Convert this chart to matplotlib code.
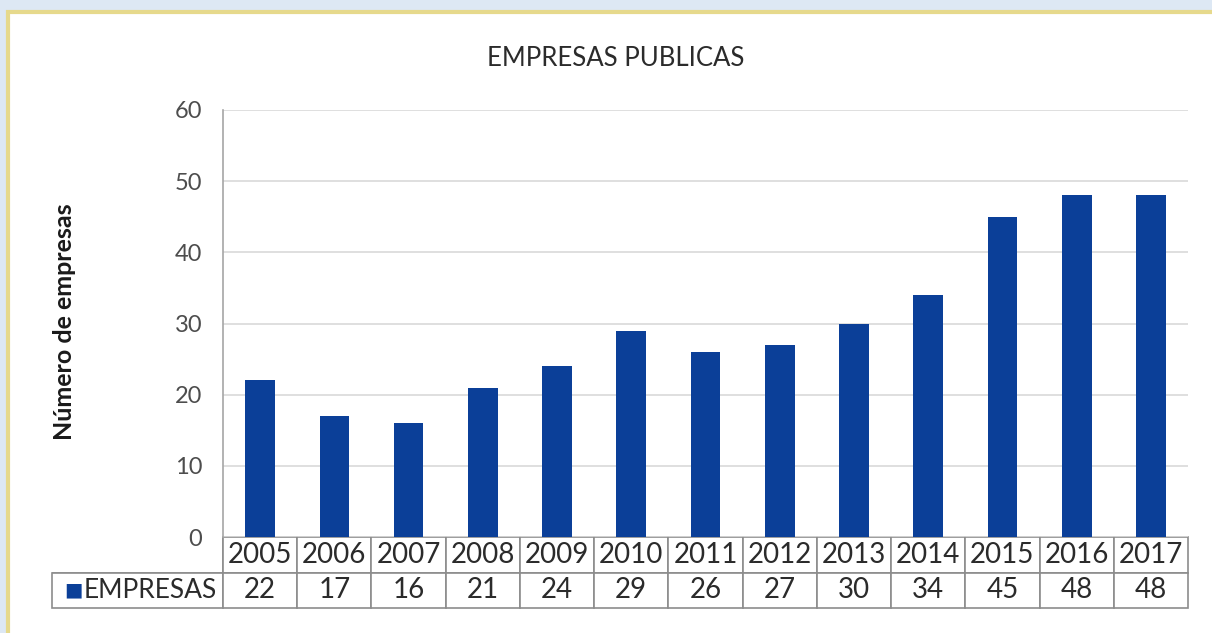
import matplotlib.pyplot as plt
from matplotlib.patches import Rectangle

years = ['2005', '2006', '2007', '2008', '2009', '2010', '2011',
         '2012', '2013', '2014', '2015', '2016', '2017']
empresas = [22, 17, 16, 21, 24, 29, 26, 27, 30, 34, 45, 48, 48]
series_name = 'EMPRESAS'

W, H = 1212, 633
bar_color = '#0b3f98'
text_color = '#2b2b2b'

plt.rcParams['font.family'] = ['Lato', 'DejaVu Sans']

fig = plt.figure(figsize=(W / 100, H / 100), dpi=100)
fig.patch.set_facecolor('#dde8f4')

# white panel with a yellowish border, kept behind the axes
panel = Rectangle((8 / W, -0.01), 1.02, 1 - 12 / H + 0.01, transform=fig.transFigure,
                  facecolor='white', edgecolor='#e6d98c', linewidth=3, zorder=-10)
fig.patches.append(panel)

ax = fig.add_axes([223 / W, 1 - 537 / H, (1188 - 223) / W, (537 - 110) / H])
ax.set_facecolor('none')

x = list(range(len(years)))
ax.bar(x, empresas, width=0.4, color=bar_color, zorder=3)

ax.set_xlim(-0.5, len(years) - 0.5)
ax.set_ylim(0, 60)
ax.set_yticks(range(0, 61, 10))
ax.set_xticks([])
ax.yaxis.grid(True, color='#d9d9d9', linewidth=1.2, zorder=0)
ax.tick_params(axis='y', length=0, pad=15, labelsize=17, labelcolor='#4d4d4d')
for s in ['top', 'right', 'bottom']:
    ax.spines[s].set_visible(False)
ax.spines['left'].set_color('#a6a6a6')
ax.spines['left'].set_linewidth(1.2)

# data table under the chart
col_w = (1188 - 223) / 13
first_w = 223 - 52
total_w = 1188 - 52
cell_text = [[''] + years, [''] + [str(v) for v in empresas]]
widths = [first_w / total_w] + [col_w / total_w] * len(years)
tbl = ax.table(cellText=cell_text, colWidths=widths, cellLoc='center',
               bbox=[(52 - 223) / (1188 - 223), -(608 - 537) / (537 - 110),
                     total_w / (1188 - 223), (608 - 537) / (537 - 110)])
tbl.auto_set_font_size(False)
for (r, c), cell in tbl.get_celld().items():
    cell.set_edgecolor('#8c8c8c')
    cell.set_linewidth(1.2)
    cell.get_text().set_fontsize(20)
    cell.get_text().set_color(text_color)
    if r == 0 and c == 0:
        cell.visible_edges = 'BR'

fig.text(64 / W, 1 - 590 / H, '■', color=bar_color, fontsize=14,
         ha='left', va='center', family=['DejaVu Sans'])
fig.text(84 / W, 1 - 590 / H, series_name, color=text_color, fontsize=19,
         ha='left', va='center')

fig.text(616 / W, 1 - 58 / H, 'EMPRESAS PUBLICAS', color=text_color,
         fontsize=18.5, ha='center', va='center')
fig.text(65 / W, 1 - 322 / H, 'Número de empresas', color='#1a1a1a',
         fontsize=18, fontweight='bold', rotation=90, ha='center', va='center')

fig.savefig('out.png', dpi=100, facecolor=fig.get_facecolor())
